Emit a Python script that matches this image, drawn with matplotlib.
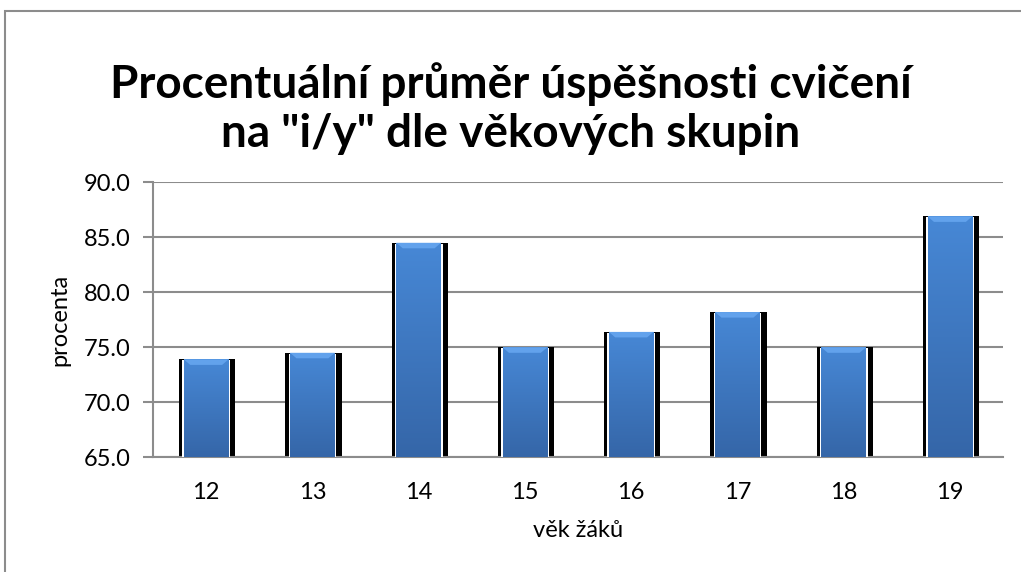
import numpy as np
import matplotlib
matplotlib.use("Agg")
import matplotlib.pyplot as plt
from matplotlib.patches import Rectangle, Polygon

plt.rcParams['font.family'] = ['Lato', 'DejaVu Sans']

ages = ['12', '13', '14', '15', '16', '17', '18', '19']
scores = [73.9, 74.5, 84.5, 75.0, 76.4, 78.2, 75.0, 86.9]
yticks = [65.0, 70.0, 75.0, 80.0, 85.0, 90.0]

title = 'Procentuální průměr úspěšnosti cvičení\nna "i/y" dle věkových skupin'

fig = plt.figure(figsize=(10.21, 5.72), dpi=100)
ax = fig.add_axes([0.1499, 0.2005, 0.8325, 0.4808])

# outer chart border (only top and left visible)
fig.add_artist(Rectangle((0.005, -0.01), 1.2, 0.9916, transform=fig.transFigure,
                         fill=False, edgecolor='#8c8c8c', lw=1.5))

x = np.arange(len(ages))
base = yticks[0]
heights = [v - base for v in scores]

# black shadow + white gap + blue bar
ax.bar(x + 0.01, heights, 0.53, bottom=base, color='black', zorder=2)
ax.bar(x, [h - 0.08 for h in heights], 0.45, bottom=base, color='white', zorder=3)
bars = ax.bar(x, heights, 0.42, bottom=base, color='#3f7cc6', zorder=4)

# vertical gradient on every bar
grad = np.linspace(0, 1, 256).reshape(-1, 1)
cmap = matplotlib.colors.LinearSegmentedColormap.from_list('b', ['#3566a8', '#4788d6'])
for b in bars:
    bx, by = b.get_x(), b.get_y()
    bw, bh = b.get_width(), b.get_height()
    im = ax.imshow(grad, extent=[bx, bx + bw, by, by + bh], origin='lower',
                   cmap=cmap, aspect='auto', zorder=5)
    im.set_clip_path(b)
    # light bevel on the top
    d = 0.5
    bevel = Polygon([[bx, by + bh], [bx + bw, by + bh],
                     [bx + bw - 0.06, by + bh - d], [bx + 0.06, by + bh - d]],
                    closed=True, color='#62a2ec', zorder=6, lw=0)
    ax.add_patch(bevel)

ax.set_xlim(-0.5, len(ages) - 0.5)
ax.set_ylim(65, 90)
ax.set_yticks(yticks)
ax.set_yticklabels([f'{t:.1f}' for t in yticks])
ax.set_xticks(x)
ax.set_xticklabels(ages)

ax.yaxis.grid(True, color='#8c8c8c', lw=1.5, zorder=1)
ax.set_axisbelow(True)
for s in ['top', 'right']:
    ax.spines[s].set_visible(False)
ax.spines['left'].set_color('#8c8c8c')
ax.spines['left'].set_linewidth(1.5)
ax.spines['bottom'].set_color('#8c8c8c')
ax.spines['bottom'].set_linewidth(1.5)
ax.tick_params(axis='y', length=7, width=1.5, color='#8c8c8c', labelsize=17, pad=9)
ax.tick_params(axis='x', length=0, labelsize=17, pad=18)

ax.set_ylabel('procenta', fontsize=17, labelpad=10)
ax.set_xlabel('věk žáků', fontsize=17, labelpad=12)

fig.text(0.5, 0.81, title, ha='center', va='center', fontsize=33, fontweight='bold',
         linespacing=1.2)

fig.savefig('out.png', dpi=100)
